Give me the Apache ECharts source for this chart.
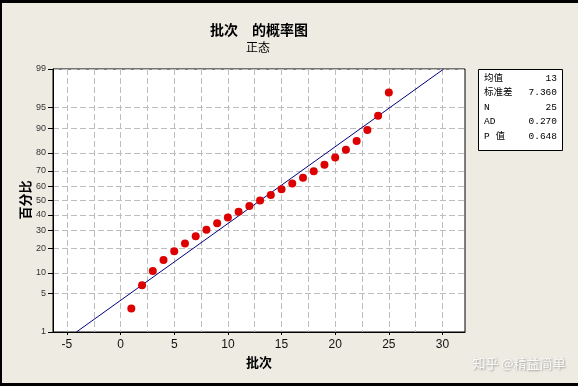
<!DOCTYPE html>
<html>
<head>
<meta charset="utf-8">
<script src="https://cdn.jsdelivr.net/npm/echarts@6/dist/echarts.min.js"></script>
<style>
html,body{margin:0;padding:0;background:#000;}
#c{width:578px;height:386px;}
</style>
</head>
<body>
<div id="c"></div>
<script>
// ---- data ----
const batchValues = [1,2,3,4,5,6,7,8,9,10,11,12,13,14,15,16,17,18,19,20,21,22,23,24,25];
const percentValues = [2.8,6.7,10.6,14.6,18.5,22.4,26.4,30.3,34.3,38.2,42.1,46.1,50.0,53.9,57.9,61.8,65.7,69.7,73.6,77.6,81.5,85.4,89.4,93.3,97.2];
const fitLineX = [-4.12, 30.12];
const fitLineP = [1, 99];
const yTickLabels = [1,5,10,20,30,40,50,60,70,80,90,95,99];
const xTickLabels = [-5,0,5,10,15,20,25,30];
const xGridValues = [-5,-2.5,0,2.5,5,7.5,10,12.5,15,17.5,20,22.5,25,27.5,30];
const statNames = ['均值','标准差','N','AD','P 值'];
const statValues = ['13','7.360','25','0.270','0.648'];
const titleText = '批次　的概率图';
const subtitleText = '正态';
const xName = '批次';
const yName = '百分比';

// probability (normal) scale transform
function probit(p){
  const a=[-3.969683028665376e+01,2.209460984245205e+02,-2.759285104469687e+02,1.383577518672690e+02,-3.066479806614716e+01,2.506628277459239e+00];
  const b=[-5.447609879822406e+01,1.615858368580409e+02,-1.556989798598866e+02,6.680131188771972e+01,-1.328068155288572e+01];
  const c=[-7.784894002430293e-03,-3.223964580411365e-01,-2.400758277161838e+00,-2.549732539343734e+00,4.374664141464968e+00,2.938163982698783e+00];
  const d=[7.784695709041462e-03,3.224671290700398e-01,2.445134137142996e+00,3.754408661907416e+00];
  const pl=0.02425, ph=1-pl;
  let q,r;
  if(p<pl){q=Math.sqrt(-2*Math.log(p));return (((((c[0]*q+c[1])*q+c[2])*q+c[3])*q+c[4])*q+c[5])/((((d[0]*q+d[1])*q+d[2])*q+d[3])*q+1);}
  if(p<=ph){q=p-0.5;r=q*q;return (((((a[0]*r+a[1])*r+a[2])*r+a[3])*r+a[4])*r+a[5])*q/(((((b[0]*r+b[1])*r+b[2])*r+b[3])*r+b[4])*r+1);}
  q=Math.sqrt(-2*Math.log(1-p));return -(((((c[0]*q+c[1])*q+c[2])*q+c[3])*q+c[4])*q+c[5])/((((d[0]*q+d[1])*q+d[2])*q+d[3])*q+1);
}
const z = pc => probit(pc/100);
const yTickZ = yTickLabels.map(z);
const labelFor = v => { let best=0; yTickZ.forEach((t,i)=>{ if(Math.abs(t-v)<Math.abs(yTickZ[best]-v)) best=i; }); return String(yTickLabels[best]); };

const points = batchValues.map((x,i)=>[x, z(percentValues[i])]);
const fitLine = fitLineX.map((x,i)=>[x, z(fitLineP[i])]);

const G = {left:53, top:69, right:465, bottom:332};
const chart = echarts.init(document.getElementById('c'), null, {renderer:'canvas'});
const BG = '#EEEBE3';
const statFont = '9.5px "Liberation Mono","Noto Sans CJK SC"';
const statGraphics = [];
statNames.forEach((n,i)=>{
  const y = 78.5 + i*14.4;
  statGraphics.push({type:'text', x:484, y:y, style:{text:n, font:statFont, fill:'#000', textAlign:'left', textVerticalAlign:'middle'}});
  statGraphics.push({type:'text', x:557, y:y, style:{text:statValues[i], font:statFont, fill:'#000', textAlign:'right', textVerticalAlign:'middle'}});
});

chart.setOption({
  backgroundColor: BG,
  animation:false,
  grid:{left:G.left, top:G.top, width:G.right-G.left, height:G.bottom-G.top, show:true, backgroundColor:'#fff', borderColor:'#000', borderWidth:1, containLabel:false},
  xAxis:[{
    type:'value', min:-6.3, max:32.1,
    axisLine:{show:true, onZero:false, lineStyle:{color:'#000'}},
    axisTick:{show:true, length:3, customValues:xTickLabels, lineStyle:{color:'#000'}},
    axisLabel:{customValues:xTickLabels, fontSize:12, color:'#111', margin:7, fontFamily:'"Liberation Sans", Arial'},
    splitLine:{show:false}
  },{
    type:'value', min:-6.3, max:32.1, position:'bottom',
    axisLine:{show:false}, axisLabel:{show:false},
    axisTick:{show:false, customValues:xGridValues},
    splitLine:{show:true, lineStyle:{color:'#bdbdbd', type:[6,3], width:1}}
  }],
  yAxis:{
    type:'value', min:yTickZ[0], max:yTickZ[yTickZ.length-1],
    axisLine:{show:true, onZero:false, lineStyle:{color:'#000'}},
    axisTick:{show:true, length:5, customValues:yTickZ, lineStyle:{color:'#000'}},
    axisLabel:{customValues:yTickZ, formatter:labelFor, fontSize:9, color:'#333', margin:7, fontFamily:'"Liberation Sans", Arial'},
    splitLine:{show:true, lineStyle:{color:'#bdbdbd', type:[6,3], width:1}}
  },
  series:[
    {type:'line', data:fitLine, xAxisIndex:0, showSymbol:false, symbol:'none', lineStyle:{color:'#000080', width:1}, z:2, silent:true},
    {type:'scatter', data:points, xAxisIndex:0, symbol:'circle', symbolSize:8, itemStyle:{color:'#DD0000', opacity:1}, z:3}
  ],
  graphic:[
    {type:'text', x:259, y:30, style:{text:titleText, font:'bold 14px "Noto Sans CJK SC"', fill:'#000', textAlign:'center', textVerticalAlign:'middle'}},
    {type:'text', x:258, y:47, style:{text:subtitleText, font:'12px "Noto Sans CJK SC"', fill:'#000', textAlign:'center', textVerticalAlign:'middle'}},
    {type:'text', x:259, y:362, style:{text:xName, font:'bold 13px "Noto Sans CJK SC"', fill:'#000', textAlign:'center', textVerticalAlign:'middle'}},
    {type:'text', x:25, y:200, rotation:Math.PI/2, style:{text:yName, font:'bold 13px "Noto Sans CJK SC"', fill:'#000', textAlign:'center', textVerticalAlign:'middle'}},
    {type:'rect', shape:{x:478.5, y:69.5, width:84, height:81}, style:{fill:'#fff', stroke:'#000', lineWidth:1}},
    ...statGraphics,
    {type:'text', x:519, y:363, style:{text:'知乎 @精益简单', font:'13px "Noto Sans CJK SC"', fill:'#fbfbfb', textAlign:'center', textVerticalAlign:'middle', textShadowColor:'rgba(0,0,0,0.35)', textShadowBlur:2, textShadowOffsetX:1, textShadowOffsetY:1}},
    {type:'rect', shape:{x:0, y:0, width:578, height:3}, style:{fill:'#000'}},
    {type:'rect', shape:{x:0, y:383, width:578, height:3}, style:{fill:'#000'}},
    {type:'rect', shape:{x:0, y:0, width:2, height:386}, style:{fill:'#000'}}
  ]
});
</script>
</body>
</html>
